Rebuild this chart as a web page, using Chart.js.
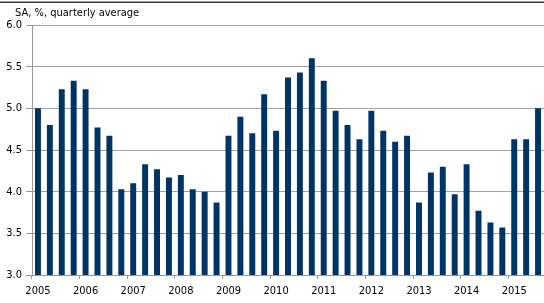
<!DOCTYPE html>
<html>
<head>
<meta charset="utf-8">
<script src="https://cdn.jsdelivr.net/npm/chart.js@4/dist/chart.umd.min.js"></script>
<style>
  html, body { margin: 0; padding: 0; background: #ffffff; }
  #wrap { width: 544px; height: 303px; position: relative; }
</style>
</head>
<body>
<div id="wrap"><canvas id="c" width="544" height="303"></canvas></div>
<script>
// ---- data ----
const years = ['2005','2006','2007','2008','2009','2010','2011','2012','2013','2014','2015'];
const quarters = ['Q1','Q2','Q3','Q4'];
const unemploymentRate = [
  5.00, 4.80, 5.23, 5.33,   // 2005
  5.23, 4.77, 4.67, 4.03,   // 2006
  4.10, 4.33, 4.27, 4.17,   // 2007
  4.20, 4.03, 4.00, 3.87,   // 2008
  4.67, 4.90, 4.70, 5.17,   // 2009
  4.73, 5.37, 5.43, 5.60,   // 2010
  5.33, 4.97, 4.80, 4.63,   // 2011
  4.97, 4.73, 4.60, 4.67,   // 2012
  3.87, 4.23, 4.30, 3.97,   // 2013
  4.33, 3.77, 3.63, 3.57,   // 2014
  4.63, 4.63, 5.00          // 2015
];
const yAxisMin = 3.0;
const yAxisMax = 6.0;
const yAxisStep = 0.5;
const titleText = 'SA, %, quarterly average';

// category labels: one per quarter
const categories = [];
for (let i = 0; i < unemploymentRate.length; i++) {
  categories.push(years[Math.floor(i / 4)] + ' ' + quarters[i % 4]);
}

const FONT = '"DejaVu Sans Condensed", "DejaVu Sans", sans-serif';

const headerPlugin = {
  id: 'header',
  beforeDraw(chart) {
    const ctx = chart.ctx;
    ctx.save();
    ctx.fillStyle = '#ffffff';
    ctx.fillRect(0, 0, chart.width, chart.height);
    ctx.strokeStyle = '#3a3a3a';
    ctx.lineWidth = 1.5;
    ctx.beginPath();
    ctx.moveTo(0, 2.25);
    ctx.lineTo(chart.width, 2.25);
    ctx.stroke();
    ctx.fillStyle = '#000000';
    ctx.font = '11px ' + FONT;
    ctx.textBaseline = 'alphabetic';
    ctx.textAlign = 'left';
    ctx.fillText(titleText, 15, 16);
    ctx.restore();
  }
};

new Chart(document.getElementById('c'), {
  type: 'bar',
  data: {
    labels: categories,
    datasets: [{
      data: unemploymentRate,
      backgroundColor: '#003366',
      borderWidth: 0,
      categoryPercentage: 1.0,
      barPercentage: 0.5
    }]
  },
  options: {
    responsive: false,
    animation: false,
    devicePixelRatio: 1,
    layout: { padding: { top: 25, right: 0, bottom: 0, left: 0 } },
    plugins: {
      legend: { display: false },
      title: { display: false },
      tooltip: { enabled: false }
    },
    scales: {
      x: {
        type: 'category',
        offset: true,
        afterFit(scale) { scale.height = 28; },
        border: { display: true, color: '#999999', width: 1 },
        grid: {
          offset: true,
          drawOnChartArea: false,
          drawTicks: true,
          tickLength: 4,
          tickColor: (ctx) => (ctx.index % 4 === 0 && ctx.index < unemploymentRate.length) ? '#999999' : 'rgba(0,0,0,0)'
        },
        ticks: {
          autoSkip: false,
          maxRotation: 0,
          minRotation: 0,
          padding: 5.5,
          color: '#000000',
          font: { family: FONT, size: 11 },
          callback: (v, i) => (i % 4 === 0) ? years[i / 4] : ''
        }
      },
      y: {
        min: yAxisMin,
        max: yAxisMax,
        afterFit(scale) { scale.width = 32; },
        border: { display: true, color: '#999999', width: 1 },
        grid: {
          color: '#a0a0a0',
          lineWidth: 1,
          drawTicks: true,
          tickLength: 6,
          tickColor: '#999999'
        },
        ticks: {
          stepSize: yAxisStep,
          padding: 4,
          color: '#000000',
          font: { family: FONT, size: 11 },
          callback: (v) => Number(v).toFixed(1)
        }
      }
    }
  },
  plugins: [headerPlugin]
});
</script>
</body>
</html>
